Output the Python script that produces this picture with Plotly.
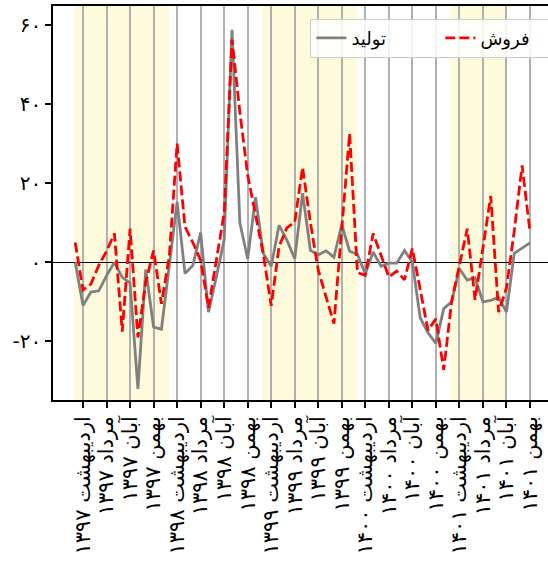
import plotly.graph_objects as go

# --- data (monthly, Farvardin 1397 .. Bahman 1401) ---
production = [0, -10.9, -7.5, -7.2, -3.4, 0, -3.8, -5.2, -32, -1.8,
              -16.4, -16.9, -0.8, 15.3, -2.8, -0.8, 7.5, -12.6, -3.7, 5.7,
              58.8, 10, 0.9, 16.5, 2.2, -1, 9.4, 5.6, 0.9, 17.5,
              3.0, 1.9, 2.9, 1.3, 9.5, 2.8, 2.0, -2.9, 2.6, -1.0,
              -0.2, -0.2, 3.0, 0, -14, -17.8, -20.5, -11.7, -10, -1.6,
              -4.5, -3.9, -10, -9.6, -8.8, -12.6, 2.3, 3.5, 4.9]
sales = [5, -7, -5.5, -0.8, 2.8, 7.3, -17.5, 8.5, -19, -5,
         3, -10.5, 1.5, 30, 9, 5, 0.5, -11.5, 0.5, 12.5,
         56.3, 38, 22, 12, 2, -11, 4, 8.7, 10.2, 24,
         10, -2, -8.8, -15.5, 8.5, 32.6, -2.6, -3.3, 7.3, 1.8,
         -3.7, -2.2, -4.4, 3.5, -7, -17.2, -14.3, -27.2, -10, -0.5,
         8.5, -9.5, 3.5, 16.8, -12.6, -6.5, 8, 24.5, 7.7]
months = ["اردیبهشت", "مرداد", "آبان", "بهمن"]
years = ["۱۳۹۷", "۱۳۹۸", "۱۳۹۹", "۱۴۰۰", "۱۴۰۱"]
shaded_spans = [(0, 12), (24, 36), (48, 55)]
y_ticks = [-20, 0, 20, 40, 60]
y_ticktext = ["-۲۰", "۰", "۲۰", "۴۰", "۶۰"]

x = list(range(len(production)))
tick_vals = [1 + 3 * k for k in range(len(months) * len(years))]
tick_text = [f"{m} {y}" for y in years for m in months]

fig = go.Figure()
fig.add_trace(go.Scatter(x=x, y=production, mode="lines", name="تولید",
                         line=dict(color="#808080", width=2.8)))
fig.add_trace(go.Scatter(x=x, y=sales, mode="lines", name="فروش",
                         line=dict(color="#ff0000", width=2.8, dash="10px,4px")))

for a, b in shaded_spans:
    fig.add_shape(type="rect", xref="x", yref="paper", x0=a - 0.15, x1=b, y0=0, y1=1,
                  fillcolor="#fdfbdc", line=dict(width=0), layer="below")

FONT = "DejaVu Sans"
fig.update_layout(
    width=548, height=572,
    margin=dict(l=53, r=0, t=6, b=172, autoexpand=False),
    plot_bgcolor="white", paper_bgcolor="white",
    font=dict(family=FONT, color="black"),
    showlegend=True,
    legend=dict(orientation="h", x=0.52, y=0.968, xanchor="left", yanchor="top",
                bgcolor="rgba(255,255,255,0.85)", bordercolor="#cccccc", borderwidth=1,
                font=dict(size=18, family=FONT), entrywidth=84, entrywidthmode="pixels"),
)
fig.update_xaxes(range=[-2.83, 60.3], tickvals=tick_vals, ticktext=tick_text,
                 tickangle=-90, ticks="outside", ticklen=6, tickwidth=1.5, tickcolor="black",
                 showline=True, linecolor="black", linewidth=1.5, mirror=True, automargin=False,
                 showgrid=True, gridcolor="#b0b0b0", gridwidth=1.5, zeroline=False,
                 tickfont=dict(size=21, family=FONT))
fig.update_yaxes(range=[-34.8, 64.8], tickvals=y_ticks, ticktext=y_ticktext,
                 ticks="outside", ticklen=6, tickwidth=1.5, tickcolor="black",
                 showline=True, linecolor="black", linewidth=1.5, mirror=False, automargin=False,
                 showgrid=False, zeroline=True, zerolinecolor="black", zerolinewidth=1.2,
                 tickfont=dict(size=20, family=FONT))

fig.write_html("out.html", config={"displayModeBar": False},
               post_script="document.body.style.margin='0';")
